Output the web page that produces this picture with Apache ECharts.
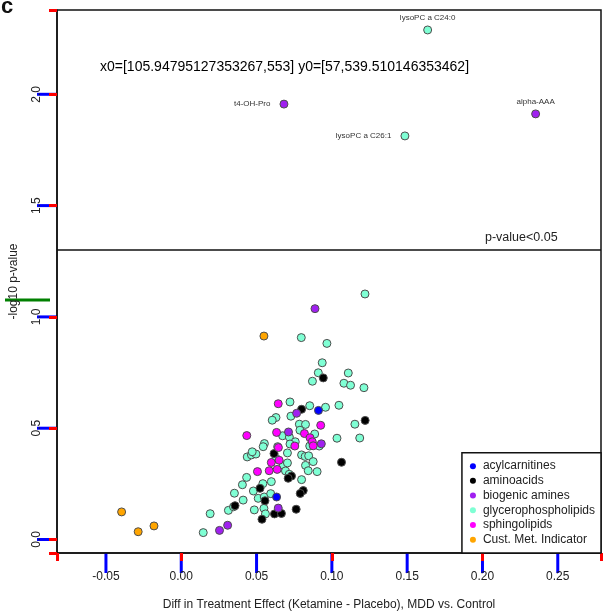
<!DOCTYPE html>
<html>
<head>
<meta charset="utf-8">
<script src="https://cdn.jsdelivr.net/npm/echarts@6/dist/echarts.min.js"></script>
<style>
html,body{margin:0;padding:0;background:#fff;}
#chart{width:603px;height:613px;background:#fff;}
</style>
</head>
<body>
<div id="chart"></div>
<script>
const categories = ['acylcarnitines','aminoacids','biogenic amines','glycerophospholipids','sphingolipids','Cust. Met. Indicator'];
const categoryColors = ['#0000FF','#000000','#A020F0','#7FFFD4','#FF00FF','#FFA500'];

const acylcarnitines = [[0.0911,0.580],[0.0633,0.191]];
const aminoacids = [
  [0.0943,0.726],[0.0799,0.585],[0.1221,0.535],[0.1064,0.347],[0.0616,0.386],
  [0.0732,0.285],[0.0710,0.275],[0.0810,0.220],[0.0790,0.207],[0.0763,0.136],
  [0.0523,0.230],[0.0556,0.174],[0.0357,0.152],[0.0619,0.115],[0.0665,0.117],
  [0.0536,0.091]
];
const biogenicAmines = [
  [0.0888,1.037],[0.0766,0.567],[0.0712,0.483],[0.0930,0.430],[0.0644,0.141],
  [0.0254,0.041],[0.0308,0.064]
];
const glycerophospholipids = [
  [0.1220,1.103],[0.0797,0.907],[0.0967,0.881],[0.0936,0.794],[0.0910,0.749],
  [0.1109,0.748],[0.0871,0.711],[0.1080,0.702],[0.1124,0.693],[0.1213,0.682],
  [0.0722,0.618],[0.0853,0.601],[0.1047,0.603],[0.0958,0.594],[0.0728,0.554],
  [0.0629,0.548],[0.0604,0.536],[0.1153,0.518],[0.0784,0.518],[0.0825,0.517],
  [0.0788,0.491],[0.0673,0.466],[0.0718,0.460],[0.0886,0.474],[0.1034,0.455],
  [0.1185,0.456],[0.0757,0.439],[0.0722,0.429],[0.0853,0.420],[0.0916,0.420],
  [0.0552,0.431],[0.0544,0.417],[0.0640,0.417],[0.0705,0.389],[0.0438,0.371],
  [0.0466,0.380],[0.0496,0.384],[0.0471,0.394],[0.0799,0.380],[0.0823,0.373],
  [0.0846,0.376],[0.0876,0.350],[0.0677,0.334],[0.0705,0.344],[0.0825,0.333],
  [0.0843,0.309],[0.0902,0.305],[0.0692,0.308],[0.0717,0.293],[0.0799,0.269],
  [0.0434,0.279],[0.0406,0.246],[0.0353,0.208],[0.0411,0.177],[0.0598,0.260],
  [0.0542,0.251],[0.0479,0.218],[0.0511,0.185],[0.0551,0.191],[0.0594,0.206],
  [0.0313,0.131],[0.0347,0.147],[0.0192,0.116],[0.0485,0.133],[0.0549,0.140],
  [0.0559,0.115],[0.0146,0.031],[0.0629,0.365]
];
const sphingolipids = [
  [0.0644,0.610],[0.0926,0.513],[0.0435,0.467],[0.0633,0.481],[0.0818,0.476],
  [0.0855,0.457],[0.0870,0.439],[0.0876,0.421],[0.0754,0.420],[0.0645,0.413],
  [0.0598,0.346],[0.0650,0.356],[0.0506,0.305],[0.0584,0.309],[0.0637,0.315]
];
const custMetIndicator = [[0.0549,0.914],[-0.0396,0.124],[-0.0286,0.035],[-0.0181,0.061]];

const labelNames = ['t4-OH-Pro','alpha-AAA','lysoPC a C24:0','lysoPC a C26:1'];
const labelCats = ['biogenic amines','biogenic amines','glycerophospholipids','glycerophospholipids'];
const labelX = [0.0682,0.2353,0.1636,0.1485];
const labelY = [1.956,1.912,2.289,1.813];

const xTicks = [-0.05,0,0.05,0.10,0.15,0.20,0.25];
const yTicks = [0,0.5,1.0,1.5,2.0];
const pThreshold = 1.30103;

const X_MIN = -0.0825, X_MAX = 0.2787, Y_MIN = -0.0606, Y_MAX = 2.3787;

const seriesValues = {
  'acylcarnitines': acylcarnitines,
  'aminoacids': aminoacids,
  'biogenic amines': biogenicAmines,
  'glycerophospholipids': glycerophospholipids,
  'sphingolipids': sphingolipids,
  'Cust. Met. Indicator': custMetIndicator
};
const labelPos = {'t4-OH-Pro':'left','alpha-AAA':'top','lysoPC a C24:0':'top','lysoPC a C26:1':'left'};
const labelDist = {'t4-OH-Pro':9,'alpha-AAA':4,'lysoPC a C24:0':4,'lysoPC a C26:1':9};

const FONT = 'Liberation Sans, Arial, sans-serif';
const drawOrder = ['glycerophospholipids','aminoacids','biogenic amines','acylcarnitines','sphingolipids','Cust. Met. Indicator'];
const TICK_LEN = 8;

const series = drawOrder.map(function (cat) {
  const ci = categories.indexOf(cat);
  const data = seriesValues[cat].map(function (p) { return {value: p}; });
  labelNames.forEach(function (nm, i) {
    if (labelCats[i] === cat) {
      data.push({
        name: nm,
        value: [labelX[i], labelY[i]],
        label: {
          show: true, formatter: nm, position: labelPos[nm], distance: labelDist[nm],
          fontSize: 8, color: '#333', fontFamily: FONT
        }
      });
    }
  });
  const s = {
    name: cat,
    type: 'scatter',
    data: data,
    symbol: 'circle',
    symbolSize: 8,
    itemStyle: {color: categoryColors[ci], borderColor: '#4d4d4d', borderWidth: 1, opacity: 1},
    emphasis: {disabled: true}
  };
  if (cat === 'glycerophospholipids') {
    s.markLine = {
      silent: true, symbol: 'none', animation: false,
      lineStyle: {color: '#111', width: 1.5, type: 'solid'},
      label: {show: false},
      data: [{yAxis: pThreshold}]
    };
  }
  return s;
});

const baseGraphics = [
  {type: 'text', left: 1, top: -4, style: {text: 'c', fontSize: 22, fontWeight: 'bold', fill: '#111', fontFamily: FONT}},
  {type: 'text', left: 485, top: 231, style: {text: 'p-value<0.05', fontSize: 12.5, fill: '#222', fontFamily: FONT}}
];

const chart = echarts.init(document.getElementById('chart'), null, {renderer: 'canvas'});
chart.setOption({
  animation: false,
  grid: {left: 57, right: 2, top: 10, bottom: 60, show: true, borderColor: '#111', borderWidth: 1.5, outerBoundsMode: 'none'},
  xAxis: {
    type: 'value', min: X_MIN, max: X_MAX,
    name: 'Diff in Treatment Effect (Ketamine - Placebo), MDD vs. Control',
    nameLocation: 'middle', nameGap: 46,
    nameTextStyle: {fontSize: 12, color: '#222', fontFamily: FONT},
    axisLine: {show: true, onZero: false, lineStyle: {color: '#111', width: 1.5}},
    splitLine: {show: false},
    axisTick: {show: true, length: TICK_LEN, lineStyle: {color: 'red', width: 3}},
    axisLabel: {show: true, customValues: xTicks, fontSize: 12, color: '#222', fontFamily: FONT, margin: 18,
      formatter: function (v) { return v.toFixed(2); }}
  },
  yAxis: {
    type: 'value', min: Y_MIN, max: Y_MAX,
    name: '-log10 p-value',
    nameLocation: 'middle', nameGap: 37, nameRotate: 90,
    nameTextStyle: {fontSize: 12, color: '#222', fontFamily: FONT},
    axisLine: {show: true, onZero: false, lineStyle: {color: '#111', width: 1.5}},
    splitLine: {show: false},
    axisTick: {show: true, length: TICK_LEN, lineStyle: {color: 'red', width: 3}},
    axisLabel: {show: true, customValues: yTicks, rotate: 90, fontSize: 12, color: '#222', fontFamily: FONT, margin: 14,
      formatter: function (v) { return v.toFixed(1); }}
  },
  legend: {
    data: categories,
    orient: 'vertical',
    right: 2, bottom: 60,
    backgroundColor: '#fff',
    borderColor: '#111', borderWidth: 1.5,
    padding: [6, 6, 6, 8],
    itemGap: 0,
    itemWidth: 10, itemHeight: 6,
    icon: 'circle',
    itemStyle: {borderWidth: 0},
    textStyle: {fontSize: 12, color: '#222', fontFamily: FONT, lineHeight: 14.7},
    selectedMode: false
  },
  series: series
});

const tickGraphics = [];
let dbg = '';
xTicks.forEach(function (v, i) {
  const p = chart.convertToPixel({gridIndex: 0}, [v, Y_MIN]);
  if (i === 0) dbg += 'x0=' + JSON.stringify(p) + ' ';
  tickGraphics.push({type: 'line',
    shape: {x1: p[0], y1: p[1], x2: p[0], y2: p[1] + 20},
    style: {stroke: 'blue', lineWidth: 3}});
});
yTicks.forEach(function (v, i) {
  const p = chart.convertToPixel({gridIndex: 0}, [X_MIN, v]);
  if (i === 0) dbg += 'y0=' + JSON.stringify(p);
  tickGraphics.push({type: 'line',
    shape: {x1: p[0], y1: p[1], x2: p[0] - 20, y2: p[1]},
    style: {stroke: 'blue', lineWidth: 3}});
});
tickGraphics.push({type: 'text', left: 100, top: 60, style: {text: dbg, fontSize: 14, fill: '#000'}});
tickGraphics.push({type: 'line', shape: {x1: 5, y1: 300, x2: 50, y2: 300}, style: {stroke: 'green', lineWidth: 3}});
chart.setOption({graphic: baseGraphics.concat(tickGraphics)});
</script>
</body>
</html>
